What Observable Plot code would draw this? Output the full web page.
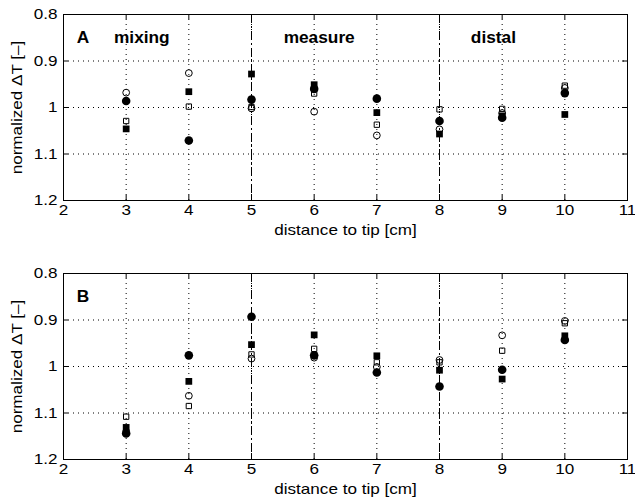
<!DOCTYPE html>
<html><head><meta charset="utf-8">
<script src="https://cdn.jsdelivr.net/npm/d3@7"></script>
<script src="https://cdn.jsdelivr.net/npm/@observablehq/plot@0.6"></script>
<style>
body{margin:0;background:#fff;}
#chart{width:635px;height:502px;}
#chart svg{display:block;}
</style></head><body><div id="chart"></div>
<script>
// ---- data ----
const positions = [3, 4, 5, 6, 7, 8, 9, 10];
const xTicks = [2, 3, 4, 5, 6, 7, 8, 9, 10, 11];
const xTickLabels = ["2", "3", "4", "5", "6", "7", "8", "9", "10", "11"];
const yTicks = [0.8, 0.9, 1, 1.1, 1.2];
const yTickLabels = ["0.8", "0.9", "1", "1.1", "1.2"];
const gridX = [3, 4, 5, 6, 7, 8, 9, 10];
const gridY = [0.9, 1, 1.1];
const zoneBounds = [5, 8];
const zoneLabels = ["mixing", "measure", "distal"];
const zoneLabelX = [3.25, 6.08, 8.86];
const panelLabels = ["A", "B"];
const xLabel = "distance to tip [cm]";
const yLabel = "normalized \u0394T [\u2013]";

const openCircleA   = [0.968, 0.926, 1.002, 1.009, 1.060, 1.047, 1.012, 0.958];
const filledCircleA = [0.986, 1.071, 0.983, 0.960, 0.981, 1.029, 1.022, 0.969];
const openSquareA   = [1.029, 0.998, 0.999, 0.970, 1.037, 1.004, 1.003, 0.953];
const filledSquareA = [1.046, 0.966, 0.928, 0.951, 1.011, 1.057, 1.018, 1.015];

const openCircleB   = [1.140, 1.063, 0.983, 0.981, 1.001, 0.986, 0.933, 0.902];
const filledCircleB = [1.144, 0.976, 0.893, 0.976, 1.013, 1.043, 1.007, 0.943];
const openSquareB   = [1.108, 1.085, 0.974, 0.962, 0.991, 0.991, 0.966, 0.907];
const filledSquareB = [1.131, 1.032, 0.953, 0.932, 0.977, 1.008, 1.027, 0.934];

// ---- build tables ----
const seriesDefs = [
  {name: "openCircle",   A: openCircleA,   B: openCircleB,   symbol: "circle", fill: "none", stroke: "#000", r: 3.4},
  {name: "filledCircle", A: filledCircleA, B: filledCircleB, symbol: "circle", fill: "#000", stroke: "none", r: 4.3},
  {name: "filledSquare", A: filledSquareA, B: filledSquareB, symbol: "square", fill: "#000", stroke: "none", r: 3.8},
  {name: "openSquare",   A: openSquareA,   B: openSquareB,   symbol: "square", fill: "none", stroke: "#000", r: 3.0}
];

const FONT = "'Liberation Sans', Arial, Helvetica, sans-serif";

function panel(key, label, opts) {
  const marks = [
    Plot.ruleY(gridY, {y: d => d, stroke: "#000", strokeWidth: 1, strokeDasharray: "1,4"}),
    Plot.ruleX(gridX, {x: d => d, stroke: "#000", strokeWidth: 1, strokeDasharray: "1,4"}),
    Plot.ruleX(zoneBounds, {x: d => d, stroke: "#000", strokeWidth: 1, strokeDasharray: "9,3,2,3"}),
    // inward tick marks on all four sides
    Plot.ruleX(xTicks, {x: d => d, y1: 0.8, y2: 0.8 + 0.011, stroke: "#000"}),
    Plot.ruleX(xTicks, {x: d => d, y1: 1.2, y2: 1.2 - 0.011, stroke: "#000"}),
    Plot.ruleY(yTicks, {y: d => d, x1: 2, x2: 2 + 0.08, stroke: "#000"}),
    Plot.ruleY(yTicks, {y: d => d, x1: 11, x2: 11 - 0.08, stroke: "#000"}),
    Plot.frame({stroke: "#000", strokeWidth: 1})
  ];
  for (const s of seriesDefs) {
    const rows = positions.map((x, i) => ({x, y: s[key][i]}));
    marks.push(Plot.dot(rows, {x: "x", y: "y", symbol: s.symbol, r: s.r, fill: s.fill, stroke: s.stroke, strokeWidth: 1}));
  }
  marks.push(Plot.text([label], {x: 2.21, y: 0.851, text: d => d, textAnchor: "start", lineAnchor: "middle", fontWeight: "bold", fontSize: 16, fill: "#000"}));
  if (opts.zones) {
    marks.push(Plot.text(zoneLabels, {x: (d, i) => zoneLabelX[i], y: 0.851, text: d => d, textAnchor: "middle", lineAnchor: "middle", fontWeight: "bold", fontSize: 16, fill: "#000"}));
  }
  marks.push(Plot.axisX({ticks: xTicks, tickFormat: d => xTickLabels[xTicks.indexOf(d)], tickSize: 0, tickPadding: 4,
    label: xLabel, labelAnchor: "center", labelArrow: "none", labelOffset: 34}));
  marks.push(Plot.axisY({ticks: yTicks, tickFormat: d => yTickLabels[yTicks.indexOf(d)], tickSize: 0, tickPadding: 6,
    label: yLabel, labelAnchor: "center", labelArrow: "none", labelOffset: 52}));
  return Plot.plot({
    width: 635,
    height: opts.height,
    marginLeft: 63,
    marginRight: 8,
    marginTop: opts.marginTop,
    marginBottom: opts.marginBottom,
    style: {fontFamily: FONT, fontSize: "15px", color: "#000", background: "#fff"},
    x: {domain: [2, 11]},
    y: {domain: [0.8, 1.2], reverse: true},
    marks
  });
}

const chart = document.getElementById("chart");
const svgA = panel("A", panelLabels[0], {height: 250, marginTop: 14, marginBottom: 50, zones: true});
const svgB = panel("B", panelLabels[1], {height: 252, marginTop: 23, marginBottom: 43, zones: false});
chart.appendChild(svgA);
chart.appendChild(svgB);

// widen glyphs horizontally, as in the reference figure
function stretch(svg) {
  svg.querySelectorAll("text").forEach(t => {
    if (t.querySelector("tspan")) return;
    const w = t.getComputedTextLength();
    if (!w) return;
    const bold = String(getComputedStyle(t).fontWeight) === "700" || t.getAttribute("font-weight") === "bold";
    const k = bold ? 1.08 : 1.14;
    t.setAttribute("textLength", (w * k).toFixed(2));
    t.setAttribute("lengthAdjust", "spacingAndGlyphs");
  });
}
stretch(svgA);
stretch(svgB);
</script>
</body></html>
